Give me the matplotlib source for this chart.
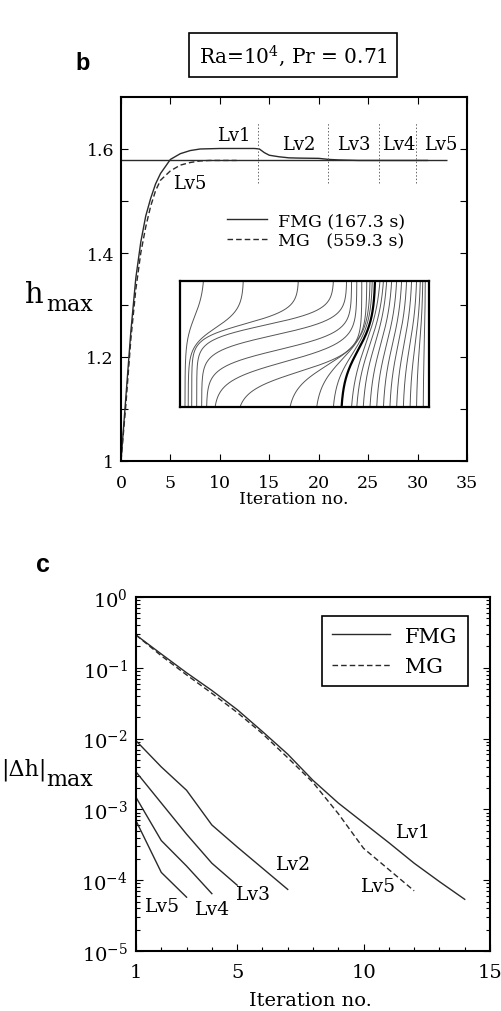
import numpy as np
import matplotlib
matplotlib.use("Agg")
import matplotlib.pyplot as plt
from matplotlib.ticker import LogLocator, MultipleLocator, NullFormatter, FixedLocator

plt.rcParams['font.family'] = ['DejaVu Serif']
plt.rcParams['mathtext.fontset'] = 'dejavuserif'

# ---------------- data: panel b ----------------
fmg_iter = [0, 0.5, 1, 1.5, 2, 2.5, 3, 3.5, 4, 5, 6, 7, 8, 10, 13.5, 14, 14.5, 15, 16, 17, 18, 20, 21, 22, 24, 31]
fmg_h = [1.0, 1.125, 1.25, 1.352, 1.421, 1.471, 1.505, 1.533, 1.553, 1.580, 1.591, 1.597, 1.600, 1.601,
         1.601, 1.600, 1.593, 1.588, 1.585, 1.583, 1.5825, 1.582, 1.580, 1.579, 1.578, 1.578]
mg_iter = [0, 0.5, 1, 1.5, 2, 2.5, 3, 3.5, 4, 5, 6, 7, 8, 9, 11.7]
mg_h = [1.0, 1.11, 1.235, 1.33, 1.40, 1.45, 1.49, 1.52, 1.540, 1.558, 1.569, 1.574, 1.577, 1.578, 1.578]
conv_h = 1.578
conv_end = 33
level_bounds = [13.9, 20.9, 26.1, 29.8]
b_labels = ['Lv1', 'Lv2', 'Lv3', 'Lv4', 'Lv5', 'Lv5']
b_label_x = [11.36, 17.93, 23.5, 28.1, 32.3, 6.98]
b_label_y = [1.627, 1.610, 1.610, 1.610, 1.610, 1.534]
legend_b = ['FMG (167.3 s)', 'MG   (559.3 s)']

# inset isotherms: bottom / top crossing (fraction of width), transition height and width
iso_bottom = [0.020, 0.033, 0.047, 0.067, 0.087, 0.107, 0.141, 0.241, 0.442, 0.549, 0.616,
              0.689, 0.710, 0.736, 0.763, 0.790, 0.817, 0.843, 0.870, 0.897, 0.924, 0.950, 0.977]
iso_top = [0.094, 0.254, 0.475, 0.616, 0.669, 0.689, 0.710, 0.730, 0.750, 0.763, 0.772,
           0.803, 0.817, 0.830, 0.850, 0.870, 0.890, 0.910, 0.930, 0.950, 0.965, 0.975, 0.985]
iso_mid = [0.72, 0.63, 0.66, 0.65, 0.57, 0.455, 0.36, 0.28, 0.33, 0.38, 0.42,
           0.5, 0.5, 0.5, 0.5, 0.5, 0.5, 0.5, 0.5, 0.5, 0.5, 0.5, 0.5]
iso_w = [0.10, 0.075, 0.06, 0.06, 0.065, 0.07, 0.08, 0.08, 0.10, 0.12, 0.13,
         0.18, 0.18, 0.18, 0.18, 0.18, 0.18, 0.18, 0.18, 0.18, 0.18, 0.18, 0.18]
bold_iso = (0.649, 0.783, 0.45, 0.13)

# ---------------- data: panel c ----------------
c_fmg_iter = list(range(1, 15))
c_fmg_log = [-0.537, -0.805, -1.07, -1.32, -1.59, -1.90, -2.22, -2.59, -2.91, -3.19, -3.47, -3.76, -4.02, -4.27]
c_mg_iter = list(range(1, 13))
c_mg_log = [-0.537, -0.83, -1.10, -1.36, -1.63, -1.93, -2.27, -2.62, -3.06, -3.55, -3.85, -4.15]
lv2_log = [-2.03, -2.40, -2.73, -3.22, -3.53, -3.83, -4.13]
lv3_log = [-2.47, -2.91, -3.35, -3.76, -4.07]
lv4_log = [-2.83, -3.44, -3.80, -4.19]
lv5_log = [-3.16, -3.89, -4.24]
c_labels = ['Lv1', 'Lv2', 'Lv3', 'Lv4', 'Lv5', 'Lv5']
c_label_x = [11.99, 7.22, 5.64, 4.02, 2.04, 10.58]
c_label_log = [-3.32, -3.77, -4.19, -4.41, -4.36, -4.08]
legend_c = ['FMG', 'MG']

W, H = 502, 1012
fig = plt.figure(figsize=(W / 100, H / 100), dpi=100)

def fx(px):
    return px / W

def fy(py):
    return 1 - py / H

lc = '#2a2a2a'
dash = (0, (4, 2.2))

# ---------------- panel b ----------------
ax1 = fig.add_axes([fx(121), fy(462), 346 / W, 364 / H])
ax1.plot(fmg_iter, fmg_h, color=lc, lw=1.0, label=legend_b[0])
ax1.plot(mg_iter, mg_h, color=lc, lw=1.0, ls=dash, label=legend_b[1])
ax1.hlines(conv_h, 0, conv_end, color=lc, lw=1.0)
ax1.vlines(level_bounds, 1.535, 1.65, colors='#666666', lw=0.7, linestyles=(0, (1.5, 2.0)))
for t, x, y in zip(b_labels, b_label_x, b_label_y):
    ax1.text(x, y, t, ha='center', va='center', fontsize=13)
ax1.set_xlim(0, 35)
ax1.set_ylim(1, 1.7)
ax1.set_xticks(range(0, 36, 5))
ax1.set_yticks([1, 1.2, 1.4, 1.6])
ax1.set_yticklabels(['1', '1.2', '1.4', '1.6'])
ax1.yaxis.set_minor_locator(FixedLocator([1.1, 1.3, 1.5]))
ax1.tick_params(which='both', direction='in', top=True, right=True, length=5, width=0.8)
ax1.tick_params(axis='x', labelsize=12.5, pad=9)
ax1.tick_params(axis='y', labelsize=12.5, pad=5)
for s in ax1.spines.values():
    s.set_linewidth(1.5)
ax1.legend(loc='upper left', bbox_to_anchor=(0.305, 0.683), frameon=False, fontsize=12.5,
           handlelength=2.35, handletextpad=0.6, labelspacing=0.15, borderpad=0, borderaxespad=0)

fig.text(fx(25), fy(303), 'h', fontsize=21, ha='left', va='baseline')
fig.text(fx(46), fy(311), 'max', fontsize=16, ha='left', va='baseline')
fig.text(fx(294), fy(500), 'Iteration no.', fontsize=12.5, ha='center', va='center')
fig.text(fx(83), fy(63), 'b', fontsize=17, fontweight='bold', family='Liberation Sans', ha='center', va='center')
fig.text(fx(293), fy(56), 'Ra=10$^4$, Pr = 0.71', fontsize=14.5, ha='center', va='center',
         bbox=dict(boxstyle='square,pad=0.45', fc='white', ec='black', lw=1.2))

# inset
axin = fig.add_axes([fx(180), fy(408), 249 / W, 126 / H])
v = np.linspace(0, 1, 200)

def iso(b, t, vc, w):
    sig = lambda z: 1 / (1 + np.exp(-z))
    s0, s1 = sig(-vc / w), sig((1 - vc) / w)
    s = (sig((v - vc) / w) - s0) / (s1 - s0)
    return b + (t - b) * s

for b, t, vc, w in zip(iso_bottom, iso_top, iso_mid, iso_w):
    axin.plot(iso(b, t, vc, w), v, color='#555555', lw=0.7)
axin.plot(iso(*bold_iso), v, color='black', lw=1.6)
axin.set_xlim(0, 1)
axin.set_ylim(0, 1)
axin.set_xticks([])
axin.set_yticks([])
for s in axin.spines.values():
    s.set_linewidth(1.6)

# ---------------- panel c ----------------
ax2 = fig.add_axes([fx(136), fy(952), 354 / W, 354 / H])
ax2.plot(c_fmg_iter, 10 ** np.array(c_fmg_log), color=lc, lw=1.0, label=legend_c[0])
ax2.plot(c_mg_iter, 10 ** np.array(c_mg_log), color=lc, lw=1.0, ls=dash, label=legend_c[1])
for arr in (lv2_log, lv3_log, lv4_log, lv5_log):
    ax2.plot(range(1, len(arr) + 1), 10 ** np.array(arr), color=lc, lw=1.0)
for t, x, y in zip(c_labels, c_label_x, c_label_log):
    ax2.text(x, 10 ** y, t, ha='center', va='center', fontsize=13.5)
ax2.set_yscale('log')
ax2.set_xlim(1, 15)
ax2.set_ylim(1e-5, 1)
ax2.set_xticks([1, 5, 10, 15])
ax2.xaxis.set_minor_locator(MultipleLocator(1))
ax2.yaxis.set_major_locator(LogLocator(base=10, numticks=10))
ax2.yaxis.set_minor_locator(LogLocator(base=10, subs=np.arange(2, 10), numticks=20))
ax2.yaxis.set_minor_formatter(NullFormatter())
ax2.tick_params(which='both', direction='in', right=True, width=0.8)
ax2.tick_params(which='major', length=5)
ax2.tick_params(which='minor', length=3)
ax2.tick_params(axis='x', labelsize=14, pad=9)
ax2.tick_params(axis='y', labelsize=14, pad=6)
for s in ax2.spines.values():
    s.set_linewidth(1.5)
leg = ax2.legend(loc='upper left', bbox_to_anchor=(0.525, 0.946), fontsize=15, frameon=True,
                 fancybox=False, edgecolor='black', framealpha=1, handlelength=2.75,
                 handletextpad=0.75, labelspacing=0.55, borderpad=0.5, borderaxespad=0)
leg.get_frame().set_linewidth(1.2)

fig.text(fx(1), fy(776), '|\u0394h|', fontsize=16, ha='left', va='baseline')
fig.text(fx(46), fy(786), 'max', fontsize=16, ha='left', va='baseline')
fig.text(fx(310), fy(1001), 'Iteration no.', fontsize=14, ha='center', va='center')
fig.text(fx(43), fy(565), 'c', fontsize=18, fontweight='bold', family='Liberation Sans', ha='center', va='center')

fig.savefig('out.png', dpi=100)
